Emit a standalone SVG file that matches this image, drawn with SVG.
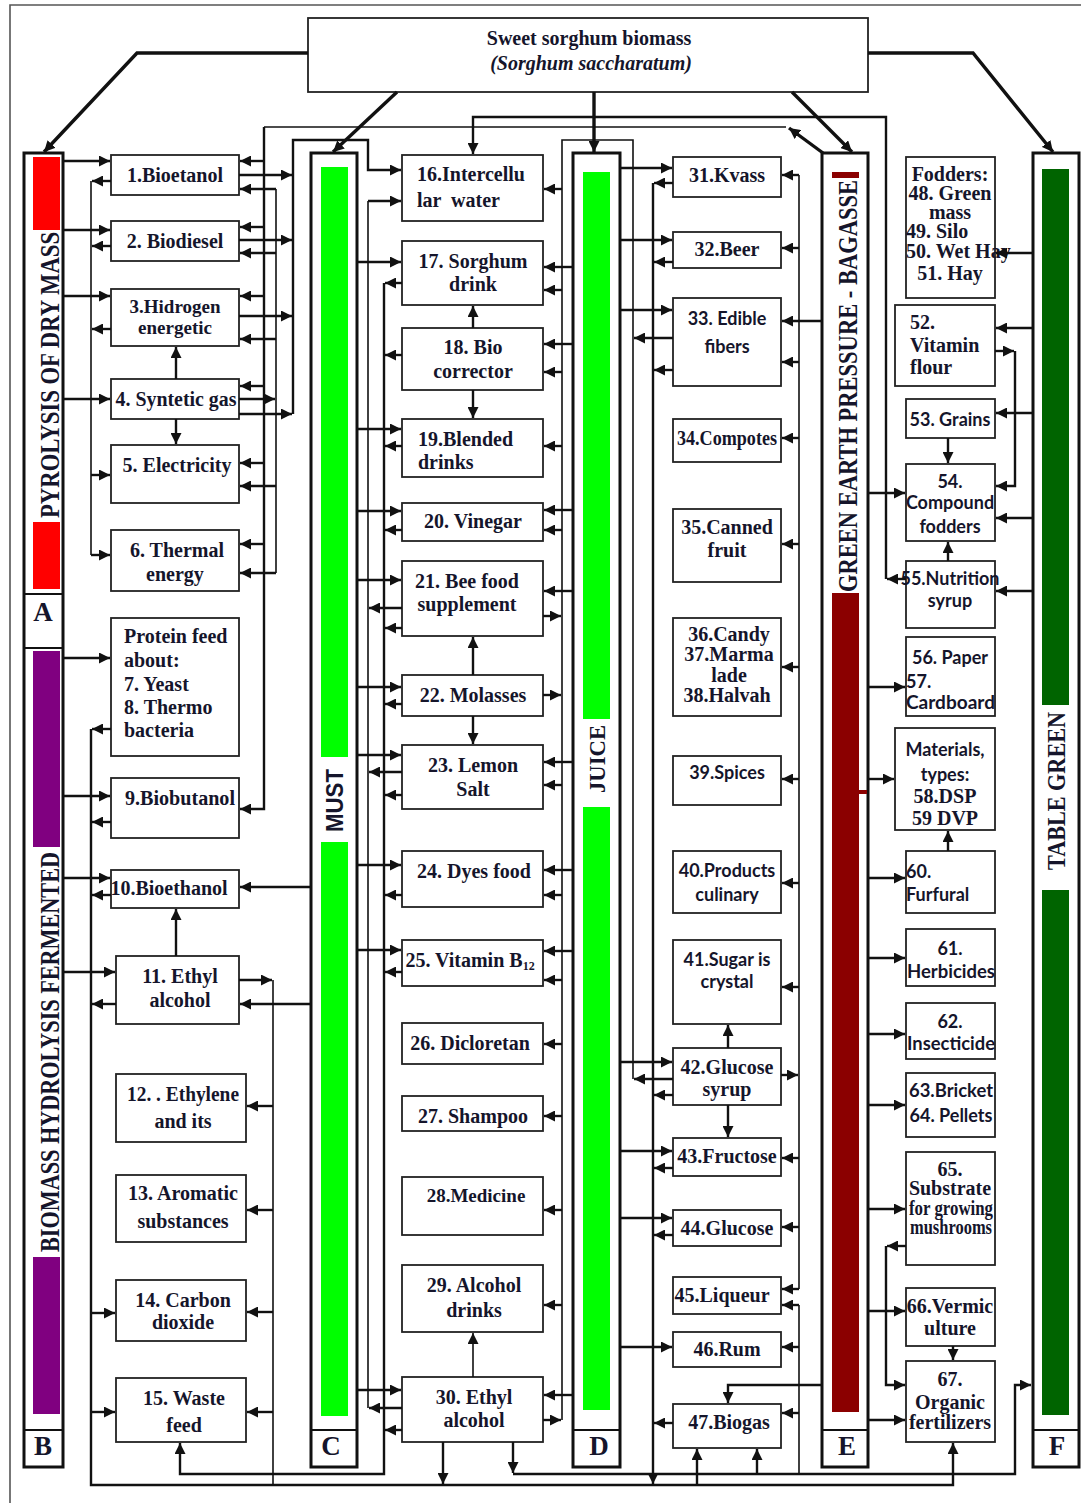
<svg xmlns="http://www.w3.org/2000/svg" width="1081" height="1503" viewBox="0 0 1081 1503">
<defs>
<marker id="ah" markerUnits="userSpaceOnUse" markerWidth="11" markerHeight="11" viewBox="0 0 10 10" refX="10" refY="5" orient="auto"><path d="M0,0 L10,5 L0,10 z" fill="#111"/></marker>
<clipPath id="clipMat"><rect x="895" y="728" width="100" height="102"/></clipPath>
<style>
.box{fill:#fff;stroke:#222;stroke-width:1.8}
.col{fill:#fff;stroke:#111;stroke-width:3}
.div{stroke:#111;stroke-width:2}
.t{font-family:"Liberation Serif","Times New Roman",serif;font-weight:bold;font-size:20px;fill:#15152b;text-anchor:middle}
.s{font-family:Lato,"Liberation Sans",sans-serif;font-weight:bold;font-size:18px;fill:#15152b;text-anchor:middle}
.l{text-anchor:start}
.m{font-size:19px}
.v{font-family:"Liberation Serif","Times New Roman",serif;font-weight:bold;fill:#15152b}
.lab{font-family:"Liberation Serif","Times New Roman",serif;font-weight:bold;font-size:27px;fill:#15152b;text-anchor:middle}
.ln{fill:none;stroke:#111;stroke-width:1.6}
.ar{fill:none;stroke:#111;stroke-width:2.4;marker-end:url(#ah)}
.th{fill:none;stroke:#111;stroke-width:3.4;marker-end:url(#ah)}
</style>
</defs>
<rect width="1081" height="1503" fill="#fff"/>
<path d="M10,1503 V5 H1081" fill="none" stroke="#555" stroke-width="1.6"/>

<g id="source">
<rect class="box" x="308" y="18" width="560" height="74"/>
<text class="t" x="589" y="45">Sweet sorghum biomass</text>
<text class="t" x="591" y="70" font-style="italic" font-size="21">(Sorghum saccharatum)</text>
</g>

<g id="colAB">
<rect class="col" x="24" y="153" width="39" height="1314"/>
<rect x="33" y="157" width="27" height="73" fill="#ff0000"/>
<rect x="33" y="522" width="27" height="67" fill="#ff0000"/>
<rect x="33" y="651" width="27" height="196" fill="#800080"/>
<rect x="33" y="1257" width="27" height="157" fill="#800080"/>
<line class="div" x1="24" y1="594" x2="63" y2="594"/>
<line class="div" x1="24" y1="648" x2="63" y2="648"/>
<line class="div" x1="24" y1="1430" x2="63" y2="1430"/>
<text class="v" font-size="28" transform="translate(59,518) rotate(-90)" textLength="286" lengthAdjust="spacingAndGlyphs">PYROLYSIS OF DRY MASS</text>
<text class="v" font-size="28" transform="translate(59,1252) rotate(-90)" textLength="400" lengthAdjust="spacingAndGlyphs">BIOMASS HYDROLYSIS FERMENTED</text>
<text class="lab" x="43" y="621">A</text>
<text class="lab" x="43" y="1455">B</text>
</g>

<g id="colC">
<rect class="col" x="311" y="153" width="46" height="1314"/>
<rect x="321" y="167" width="27" height="590" fill="#00ff00"/>
<rect x="321" y="842" width="27" height="574" fill="#00ff00"/>
<line class="div" x1="311" y1="1430" x2="357" y2="1430"/>
<text font-family="Liberation Sans, Arial, sans-serif" font-weight="bold" font-size="24" fill="#15152b" transform="translate(343,832) rotate(-90)" textLength="63" lengthAdjust="spacingAndGlyphs">MUST</text>
<text class="lab" x="331" y="1455">C</text>
</g>

<g id="colD">
<rect class="col" x="573" y="153" width="47" height="1314"/>
<rect x="583" y="172" width="27" height="547" fill="#00ff00"/>
<rect x="583" y="807" width="27" height="603" fill="#00ff00"/>
<line class="div" x1="573" y1="1430" x2="620" y2="1430"/>
<text class="v" font-size="24" transform="translate(605,793) rotate(-90)" textLength="68" lengthAdjust="spacingAndGlyphs">JUICE</text>
<text class="lab" x="599" y="1455">D</text>
</g>

<g id="colE">
<rect class="col" x="822" y="153" width="46" height="1314"/>
<rect x="832" y="172" width="27" height="6" fill="#8b0000"/>
<rect x="832" y="593" width="27" height="819" fill="#8b0000"/>
<rect x="859" y="790" width="8" height="4" fill="#8b0000"/>
<line class="div" x1="822" y1="1430" x2="868" y2="1430"/>
<text class="v" font-size="27" transform="translate(857,592) rotate(-90)" textLength="412" lengthAdjust="spacingAndGlyphs">GREEN EARTH PRESSURE - BAGASSE</text>
<text class="lab" x="847" y="1455">E</text>
</g>

<g id="colF">
<rect class="col" x="1033" y="153" width="46" height="1314"/>
<rect x="1042" y="169" width="27" height="536" fill="#006400"/>
<rect x="1042" y="890" width="27" height="525" fill="#006400"/>
<line class="div" x1="1033" y1="1430" x2="1079" y2="1430"/>
<text class="v" font-size="25" transform="translate(1065,870) rotate(-90)" textLength="158" lengthAdjust="spacingAndGlyphs">TABLE GREEN</text>
<text class="lab" x="1057" y="1455">F</text>
</g>

<!-- left nodes -->
<g id="n1"><rect class="box" x="111" y="155" width="128" height="40"/><text class="t" x="175" y="182">1.Bioetanol</text></g>
<g id="n2"><rect class="box" x="111" y="221" width="128" height="40"/><text class="t" x="175" y="248">2. Biodiesel</text></g>
<g id="n3"><rect class="box" x="111" y="289" width="128" height="57"/><text class="t m" x="175" y="313">3.Hidrogen</text><text class="t m" x="175" y="334">energetic</text></g>
<g id="n4"><rect class="box" x="111" y="379" width="128" height="40"/><text class="t" x="176" y="406" textLength="121" lengthAdjust="spacingAndGlyphs">4. Syntetic gas</text></g>
<g id="n5"><rect class="box" x="111" y="445" width="128" height="58"/><text class="t" x="177" y="472">5. Electricity</text></g>
<g id="n6"><rect class="box" x="111" y="530" width="128" height="61"/><text class="t" x="177" y="557">6. Thermal</text><text class="t" x="175" y="581">energy</text></g>
<g id="n7"><rect class="box" x="111" y="618" width="128" height="138"/>
<text class="t l" x="124" y="643">Protein feed</text><text class="t l" x="124" y="667">about:</text><text class="t l" x="124" y="691">7. Yeast</text><text class="t l" x="124" y="714">8. Thermo</text><text class="t l" x="124" y="737">bacteria</text></g>
<g id="n9"><rect class="box" x="111" y="778" width="128" height="60"/><text class="t" x="180" y="805" textLength="110" lengthAdjust="spacingAndGlyphs">9.Biobutanol</text></g>
<g id="n10"><rect class="box" x="111" y="870" width="128" height="38"/><text class="t" x="169" y="895" font-size="17">10.Bioethanol</text></g>
<g id="n11"><rect class="box" x="116" y="956" width="123" height="68"/><text class="t" x="180" y="983">11. Ethyl</text><text class="t" x="180" y="1007">alcohol</text></g>
<g id="n12"><rect class="box" x="116" y="1074" width="130" height="68"/><text class="t" x="183" y="1101" textLength="112" lengthAdjust="spacingAndGlyphs">12. . Ethylene</text><text class="t" x="183" y="1128">and its</text></g>
<g id="n13"><rect class="box" x="116" y="1175" width="130" height="67"/><text class="t" x="183" y="1200" textLength="110" lengthAdjust="spacingAndGlyphs">13. Aromatic</text><text class="t" x="183" y="1228">substances</text></g>
<g id="n14"><rect class="box" x="116" y="1280" width="130" height="61"/><text class="t" x="183" y="1307">14. Carbon</text><text class="t" x="183" y="1329">dioxide</text></g>
<g id="n15"><rect class="box" x="116" y="1378" width="130" height="64"/><text class="t" x="184" y="1405">15. Waste</text><text class="t" x="184" y="1432">feed</text></g>

<!-- middle nodes -->
<g id="n16"><rect class="box" x="402" y="155" width="141" height="66"/><text class="t l" x="417" y="181">16.Intercellu</text><text class="t l" x="417" y="207" xml:space="preserve">lar  water</text></g>
<g id="n17"><rect class="box" x="402" y="241" width="141" height="64"/><text class="t" x="473" y="268">17. Sorghum</text><text class="t" x="473" y="291">drink</text></g>
<g id="n18"><rect class="box" x="402" y="328" width="141" height="62"/><text class="t" x="473" y="354">18. Bio</text><text class="t" x="473" y="378">corrector</text></g>
<g id="n19"><rect class="box" x="402" y="419" width="141" height="58"/><text class="t l" x="418" y="446">19.Blended</text><text class="t l" x="418" y="469">drinks</text></g>
<g id="n20"><rect class="box" x="402" y="503" width="141" height="38"/><text class="t" x="473" y="528">20. Vinegar</text></g>
<g id="n21"><rect class="box" x="402" y="561" width="141" height="75"/><text class="t" x="467" y="588">21. Bee food</text><text class="t" x="467" y="611">supplement</text></g>
<g id="n22"><rect class="box" x="402" y="675" width="141" height="41"/><text class="t" x="473" y="702">22. Molasses</text></g>
<g id="n23"><rect class="box" x="402" y="745" width="141" height="64"/><text class="t" x="473" y="772">23. Lemon</text><text class="t" x="473" y="796">Salt</text></g>
<g id="n24"><rect class="box" x="402" y="851" width="141" height="56"/><text class="t" x="474" y="878">24. Dyes food</text></g>
<g id="n25"><rect class="box" x="402" y="940" width="141" height="46"/><text class="t" x="470" y="967">25. Vitamin B<tspan font-size="12" dy="3">12</tspan></text></g>
<g id="n26"><rect class="box" x="402" y="1023" width="141" height="41"/><text class="t" x="470" y="1050">26. Dicloretan</text></g>
<g id="n27"><rect class="box" x="402" y="1096" width="141" height="35"/><text class="t" x="473" y="1123">27. Shampoo</text></g>
<g id="n28"><rect class="box" x="402" y="1177" width="141" height="58"/><text class="t m" x="476" y="1202">28.Medicine</text></g>
<g id="n29"><rect class="box" x="402" y="1265" width="141" height="67"/><text class="t" x="474" y="1292">29. Alcohol</text><text class="t" x="474" y="1317">drinks</text></g>
<g id="n30"><rect class="box" x="402" y="1377" width="141" height="65"/><text class="t" x="474" y="1404">30. Ethyl</text><text class="t" x="474" y="1427">alcohol</text></g>

<!-- right-middle nodes -->
<g id="n31"><rect class="box" x="673" y="157" width="108" height="40"/><text class="t" font-size="18" x="727" y="182">31.Kvass</text></g>
<g id="n32"><rect class="box" x="673" y="232" width="108" height="36"/><text class="t" font-size="18" x="727" y="256">32.Beer</text></g>
<g id="n33"><rect class="box" x="673" y="298" width="108" height="88"/><text class="s" x="727" y="325">33. Edible</text><text class="s" x="727" y="353">fibers</text></g>
<g id="n34"><rect class="box" x="673" y="419" width="108" height="43"/><text class="t" x="727" y="445" font-size="17" textLength="100" lengthAdjust="spacingAndGlyphs">34.Compotes</text></g>
<g id="n35"><rect class="box" x="673" y="509" width="108" height="73"/><text class="t" font-size="18" x="727" y="534">35.Canned</text><text class="t" font-size="18" x="727" y="557">fruit</text></g>
<g id="n36"><rect class="box" x="673" y="618" width="108" height="98"/><text class="t" font-size="16" x="729" y="641">36.Candy</text><text class="t" font-size="16" x="729" y="661">37.Marma</text><text class="t" font-size="16" x="729" y="682">lade</text><text class="t" font-size="16" x="727" y="702">38.Halvah</text></g>
<g id="n39"><rect class="box" x="673" y="756" width="108" height="49"/><text class="s" font-size="17" x="727" y="779">39.Spices</text></g>
<g id="n40"><rect class="box" x="673" y="851" width="108" height="62"/><text class="s" font-size="17" x="727" y="877">40.Products</text><text class="s" font-size="17" x="727" y="901">culinary</text></g>
<g id="n41"><rect class="box" x="673" y="940" width="108" height="84"/><text class="s" font-size="17" x="727" y="966">41.Sugar is</text><text class="s" font-size="17" x="727" y="988">crystal</text></g>
<g id="n42"><rect class="box" x="673" y="1048" width="108" height="57"/><text class="t" font-size="18" x="727" y="1074">42.Glucose</text><text class="t" font-size="18" x="727" y="1096">syrup</text></g>
<g id="n43"><rect class="box" x="673" y="1138" width="108" height="38"/><text class="t" font-size="17" x="727" y="1163">43.Fructose</text></g>
<g id="n44"><rect class="box" x="673" y="1210" width="108" height="36"/><text class="t" font-size="17" x="727" y="1235">44.Glucose</text></g>
<g id="n45"><rect class="box" x="673" y="1277" width="108" height="37"/><text class="t" font-size="17" x="722" y="1302">45.Liqueur</text></g>
<g id="n46"><rect class="box" x="673" y="1332" width="108" height="35"/><text class="t" font-size="17" x="727" y="1356">46.Rum</text></g>
<g id="n47"><rect class="box" x="673" y="1404" width="108" height="44"/><text class="t" font-size="17" x="729" y="1429">47.Biogas</text></g>

<!-- right nodes -->
<g id="n48"><rect class="box" x="906" y="157" width="89" height="141"/>
<text class="t" font-size="18" x="950" y="181">Fodders:</text><text class="t" font-size="18" x="950" y="200">48. Green</text><text class="t" font-size="15" x="950" y="219">mass</text><text class="t l" font-size="16" x="906" y="238">49. Silo</text><text class="t l" font-size="18" x="906" y="258">50. Wet Hay</text><text class="t" font-size="18" x="950" y="280">51. Hay</text></g>
<g id="n52"><rect class="box" x="895" y="305" width="100" height="81"/><text class="t l" font-size="18" x="910" y="329">52.</text><text class="t l" font-size="18" x="910" y="352">Vitamin</text><text class="t l" font-size="18" x="910" y="374">flour</text></g>
<g id="n53"><rect class="box" x="906" y="399" width="89" height="39"/><text class="s" font-size="17" x="950" y="426">53. Grains</text></g>
<g id="n54"><rect class="box" x="906" y="464" width="89" height="77"/><text class="s" font-size="17" x="950" y="488">54.</text><text class="s" font-size="17" x="950" y="509">Compound</text><text class="s" font-size="17" x="950" y="533">fodders</text></g>
<g id="n55"><rect class="box" x="906" y="561" width="89" height="67"/><text class="s" font-size="12.5" x="950" y="585">55.Nutrition</text><text class="s" font-size="12.5" x="950" y="607">syrup</text></g>
<g id="n56"><rect class="box" x="906" y="637" width="89" height="79"/><text class="s" font-size="17" x="950" y="664">56. Paper</text><text class="s l" font-size="17" x="906" y="688">57.</text><text class="s l" font-size="17" x="906" y="709" textLength="89" lengthAdjust="spacingAndGlyphs">Cardboard</text></g>
<g id="n58"><rect class="box" x="895" y="728" width="100" height="102"/><g clip-path="url(#clipMat)"><text class="s" font-size="17" x="945" y="756">Materials,</text><text class="s" font-size="17" x="945" y="781">types:</text><text class="t" font-size="17" x="945" y="803">58.DSP</text><text class="t" font-size="17" x="945" y="825">59 DVP</text></g></g>
<g id="n60"><rect class="box" x="906" y="851" width="89" height="62"/><text class="s l" font-size="17" x="906" y="878">60.</text><text class="s l" font-size="17" x="906" y="901">Furfural</text></g>
<g id="n61"><rect class="box" x="906" y="929" width="89" height="57"/><text class="s" font-size="17" x="950" y="955">61.</text><text class="s" font-size="17" x="951" y="978" textLength="88" lengthAdjust="spacingAndGlyphs">Herbicides</text></g>
<g id="n62"><rect class="box" x="906" y="1003" width="89" height="56"/><text class="s" font-size="17" x="950" y="1028">62.</text><text class="s" font-size="17" x="951" y="1050" textLength="88" lengthAdjust="spacingAndGlyphs">Insecticide</text></g>
<g id="n63"><rect class="box" x="906" y="1073" width="89" height="64"/><text class="s" font-size="17" x="951" y="1097" textLength="84" lengthAdjust="spacingAndGlyphs">63.Bricket</text><text class="s" font-size="17" x="951" y="1122">64. Pellets</text></g>
<g id="n65"><rect class="box" x="906" y="1152" width="89" height="113"/><text class="t" font-size="16" x="950" y="1176">65.</text><text class="t" font-size="16" x="950" y="1195">Substrate</text><text class="t" font-size="15" x="951" y="1215" textLength="84" lengthAdjust="spacingAndGlyphs">for growing</text><text class="t" font-size="15" x="951" y="1234" textLength="82" lengthAdjust="spacingAndGlyphs">mushrooms</text></g>
<g id="n66"><rect class="box" x="906" y="1288" width="89" height="58"/><text class="t" font-size="17" x="950" y="1313">66.Vermic</text><text class="t" font-size="17" x="950" y="1335">ulture</text></g>
<g id="n67"><rect class="box" x="906" y="1361" width="89" height="81"/><text class="t" font-size="17" x="950" y="1386">67.</text><text class="t" font-size="17" x="950" y="1409">Organic</text><text class="t" font-size="17" x="950" y="1429">fertilizers</text></g>

<g id="connectors">
<!-- from source -->
<path class="th" d="M308,53 H137 L44,152"/>
<path class="th" d="M397,92 L333,152"/>
<path class="th" d="M594,92 V152"/>
<path class="th" d="M792,92 L852,152"/>
<path class="th" d="M868,53 H973 L1053,152"/>
<path class="th" d="M823,153 L789,128"/>

<!-- A/B to left nodes -->
<path class="ar" d="M63,161H110"/><path class="ar" d="M63,230H110"/><path class="ar" d="M63,296H110"/><path class="ar" d="M63,399H110"/>
<path class="ar" d="M63,658H110"/><path class="ar" d="M63,796H110"/><path class="ar" d="M63,878H110"/><path class="ar" d="M63,972H115"/>

<!-- x=91 -->
<path class="ln" d="M91,181V555"/>
<path class="ar" d="M91,729V1485H953V1443"/>
<path class="ar" d="M111,181H92"/><path class="ar" d="M111,246H92"/><path class="ar" d="M111,329H92"/>
<path class="ar" d="M111,729H92"/><path class="ar" d="M111,822H92"/><path class="ar" d="M111,895H92"/><path class="ar" d="M116,1004H92"/>
<path class="ar" d="M91,475H110"/><path class="ar" d="M91,555H110"/><path class="ar" d="M91,1313H115"/><path class="ar" d="M91,1412H115"/>

<!-- x=264 and y=127 -->
<path class="ln" d="M786,127H264"/>
<path class="ar" d="M264,127V809H240"/>
<path class="ar" d="M264,161H240"/><path class="ar" d="M264,227H240"/><path class="ar" d="M264,296H240"/>
<path class="ar" d="M264,386H240"/><path class="ar" d="M264,463H240"/><path class="ar" d="M264,544H240"/>

<!-- x=276 -->
<path class="ar" d="M239,399H275"/>
<path class="ln" d="M276,189V573"/>
<path class="ar" d="M276,189H240"/><path class="ar" d="M276,253H240"/><path class="ar" d="M276,339H240"/><path class="ar" d="M276,486H240"/><path class="ar" d="M276,573H240"/>

<!-- x=293 -->
<path class="ar" d="M239,175H292"/><path class="ar" d="M239,240H292"/><path class="ar" d="M239,316H292"/><path class="ar" d="M239,414H292"/>
<path class="ar" d="M293,414V140H368V170H401"/>

<!-- x=368 -->
<path class="ln" d="M368,201V1408"/>
<path class="ar" d="M368,201H401"/>
<path class="ar" d="M402,608H369"/><path class="ar" d="M402,772H369"/><path class="ar" d="M402,1408H369"/>

<!-- x=384 -->
<path class="ar" d="M384,283V1474H180V1443"/>
<path class="ar" d="M402,283H385"/><path class="ar" d="M402,355H385"/><path class="ar" d="M402,446H385"/><path class="ar" d="M402,530H385"/><path class="ar" d="M402,628H385"/>
<path class="ar" d="M402,704H385"/><path class="ar" d="M402,795H385"/><path class="ar" d="M402,895H385"/><path class="ar" d="M402,972H385"/><path class="ar" d="M402,1430H385"/>

<!-- C to middle -->
<path class="ar" d="M357,262H401"/><path class="ar" d="M357,429H401"/><path class="ar" d="M357,511H401"/><path class="ar" d="M357,580H401"/>
<path class="ar" d="M357,687H401"/><path class="ar" d="M357,755H401"/><path class="ar" d="M357,865H401"/><path class="ar" d="M357,950H401"/><path class="ar" d="M357,1390H401"/>
<!-- C to left -->
<path class="ar" d="M311,887H240"/><path class="ar" d="M311,1004H240"/>

<!-- x=273 -->
<path class="ar" d="M239,980H272"/>
<path class="ln" d="M273,980V1485"/>
<path class="ar" d="M273,1106H247"/><path class="ar" d="M273,1210H247"/><path class="ar" d="M273,1312H247"/><path class="ar" d="M273,1412H247"/>

<!-- node-to-node vertical -->
<path class="ar" d="M176,379V347"/><path class="ar" d="M176,419V444"/><path class="ar" d="M176,956V909"/>
<path class="ar" d="M473,328V306"/><path class="ar" d="M473,390V418"/><path class="ar" d="M473,675V637"/><path class="ar" d="M473,716V744"/>
<path class="ar" d="M473,1377V1333" style="stroke-width:1.6"/>
<path class="ar" d="M443,1442V1484"/><path class="ar" d="M513,1442V1473"/>

<!-- D to middle -->
<path class="ar" d="M573,267H544"/><path class="ar" d="M573,344H544"/><path class="ar" d="M573,510H544"/><path class="ar" d="M573,591H544"/>
<path class="ar" d="M573,762H544"/><path class="ar" d="M573,870H544"/><path class="ar" d="M573,951H544"/><path class="ar" d="M573,1395H544"/>

<!-- x=562 / 633 -->
<path class="ln" d="M633,1079V140H562V1420"/>
<path class="ar" d="M673,1079H634"/><path class="ar" d="M673,338H634"/>
<path class="ar" d="M562,189H544"/><path class="ar" d="M562,290H544"/><path class="ar" d="M562,372H544"/><path class="ar" d="M562,446H544"/>
<path class="ar" d="M562,530H544"/><path class="ar" d="M562,785H544"/><path class="ar" d="M562,895H544"/><path class="ar" d="M562,980H544"/>
<path class="ar" d="M562,1044H544"/><path class="ar" d="M562,1116H544"/><path class="ar" d="M562,1210H544"/><path class="ar" d="M562,1305H544"/>
<path class="ar" d="M543,616H561"/><path class="ar" d="M543,695H561"/><path class="ar" d="M543,1420H561"/>

<!-- x=653 -->
<path class="ar" d="M653,183V1484"/>
<path class="ar" d="M673,183H654"/><path class="ar" d="M673,262H654"/><path class="ar" d="M673,370H654"/><path class="ar" d="M673,1095H654"/>
<path class="ar" d="M673,1168H654"/><path class="ar" d="M673,1235H654"/><path class="ar" d="M673,1423H654"/>

<!-- D to right-middle -->
<path class="ar" d="M620,168H672"/><path class="ar" d="M620,240H672"/><path class="ar" d="M620,310H672"/><path class="ar" d="M620,1062H672"/>
<path class="ar" d="M620,1151H672"/><path class="ar" d="M620,1218H672"/><path class="ar" d="M620,1347H672"/>

<!-- x=799 -->
<path class="ln" d="M799,175V1289"/><path class="ln" d="M799,1305V1474"/>
<path class="ar" d="M781,1075H798"/>
<path class="ar" d="M799,175H782"/><path class="ar" d="M799,248H782"/><path class="ar" d="M799,362H782"/><path class="ar" d="M799,438H782"/>
<path class="ar" d="M799,544H782"/><path class="ar" d="M799,667H782"/><path class="ar" d="M799,779H782"/><path class="ar" d="M799,883H782"/>
<path class="ar" d="M799,987H782"/><path class="ar" d="M799,1158H782"/><path class="ar" d="M799,1227H782"/><path class="ar" d="M799,1289H782"/>
<path class="ar" d="M799,1305H782"/><path class="ar" d="M799,1347H782"/><path class="ar" d="M799,1413H782"/>
<path class="ar" d="M822,321H782"/>
<path class="ar" d="M822,1385H728V1403"/>
<path class="ar" d="M728,1048V1025"/><path class="ar" d="M728,1105V1137"/>

<!-- bottom -->
<path class="ar" d="M697,1485V1449"/>
<path class="ar" d="M513,1474H1015V1385H1031"/>
<path class="ar" d="M757,1474V1449"/>

<!-- y=117 loop -->
<path class="ar" d="M906,579H887"/>
<path class="ar" d="M886,579V117H473V154"/>

<!-- E to right -->
<path class="ar" d="M868,493H905"/><path class="ar" d="M868,687H905"/><path class="ar" d="M868,779H894"/><path class="ar" d="M868,878H905"/>
<path class="ar" d="M868,958H905"/><path class="ar" d="M868,1034H905"/><path class="ar" d="M868,1105H905"/><path class="ar" d="M868,1209H905"/>
<path class="ar" d="M868,1311H905"/><path class="ar" d="M868,1420H905"/>
<path class="ar" d="M906,1246H887"/><path class="ar" d="M886,1246V1385H905"/>
<path class="ar" d="M953,1346V1360"/>

<!-- F to right nodes -->
<path class="ar" d="M1033,253H996"/><path class="ar" d="M1033,328H996"/><path class="ar" d="M1033,413H996"/><path class="ar" d="M1033,518H996"/><path class="ar" d="M1033,591H996"/>
<path class="ar" d="M995,351H1014"/><path class="ar" d="M1015,351V486H996"/>
<path class="ar" d="M948,438V463"/><path class="ar" d="M948,561V542"/><path class="ar" d="M948,851V831"/>
</g>
</svg>
